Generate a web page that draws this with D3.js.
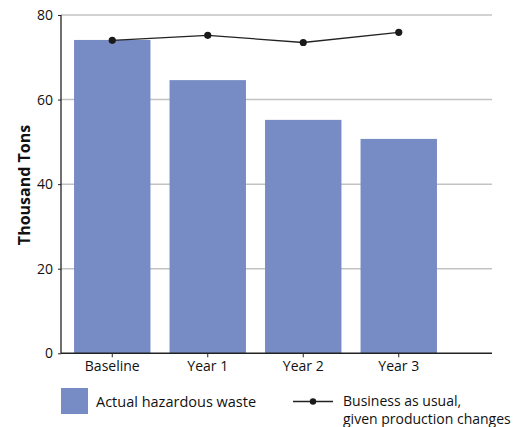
<!DOCTYPE html>
<html>
<head>
<meta charset="utf-8">
<script src="https://cdn.jsdelivr.net/npm/d3@7"></script>
<style>
  html, body { margin: 0; padding: 0; background: #fff; }
  svg { display: block; font-family: "Open Sans", "Noto Sans", sans-serif; }
</style>
</head>
<body>
<div id="chart"></div>
<script>
// Daten
const categories = ['Baseline', 'Year 1', 'Year 2', 'Year 3'];
const actualWaste = [74.1, 64.6, 55.2, 50.7];
const businessAsUsual = [74.0, 75.2, 73.5, 75.9];
const yTicks = [0, 20, 40, 60, 80];

const width = 524, height = 427;
const BAR = '#778bc4';

const svg = d3.select('#chart').append('svg')
  .attr('width', width).attr('height', height);

const y = d3.scaleLinear().domain([0, 80]).range([353.3, 15]);
const x = d3.scaleBand().domain(categories)
  .range([64.5, 446.5]).paddingInner(0.2).paddingOuter(0.1);
const axisRight = 492;

// Gitterlinien
svg.append('g').selectAll('line')
  .data(yTicks.filter(d => d > 0))
  .join('line')
    .attr('x1', 61).attr('x2', axisRight)
    .attr('y1', d => y(d)).attr('y2', d => y(d))
    .attr('stroke', '#c3c3c3').attr('stroke-width', 1.5);

// Balken
svg.append('g').selectAll('rect')
  .data(categories)
  .join('rect')
    .attr('x', d => x(d))
    .attr('width', x.bandwidth())
    .attr('y', (d, i) => y(actualWaste[i]))
    .attr('height', (d, i) => y(0) - y(actualWaste[i]))
    .attr('fill', BAR);

// y-Achse
const yAxis = svg.append('g')
  .attr('transform', 'translate(61,0)')
  .call(d3.axisLeft(y).tickValues(yTicks).tickSize(3).tickPadding(5));
yAxis.select('.domain').attr('stroke', '#222').attr('stroke-width', 1.3).attr('d', `M0,${y(80)}V${y(0)}`);
yAxis.selectAll('.tick line').attr('stroke', '#222');
yAxis.selectAll('text').attr('font-size', 14).attr('fill', '#111')
  .attr('font-family', '"Open Sans", sans-serif');

// x-Achse
const xAxis = svg.append('g')
  .attr('transform', `translate(0,${y(0)})`)
  .call(d3.axisBottom(x).tickSize(4).tickPadding(4));
xAxis.select('.domain').attr('stroke', '#222').attr('stroke-width', 1.5).attr('d', `M61,0H${axisRight}`);
xAxis.selectAll('.tick line').attr('stroke', '#222');
xAxis.selectAll('text').attr('font-size', 14).attr('fill', '#111')
  .attr('font-family', '"Open Sans", sans-serif');

// Linie "Business as usual"
const line = d3.line()
  .x((d, i) => x(categories[i]) + x.bandwidth() / 2)
  .y(d => y(d));
svg.append('path')
  .datum(businessAsUsual)
  .attr('d', line)
  .attr('fill', 'none').attr('stroke', '#222').attr('stroke-width', 1.3);
svg.append('g').selectAll('circle')
  .data(businessAsUsual)
  .join('circle')
    .attr('cx', (d, i) => x(categories[i]) + x.bandwidth() / 2)
    .attr('cy', d => y(d))
    .attr('r', 3.6)
    .attr('fill', '#1a1a1a');

// Achsentitel
svg.append('text')
  .attr('transform', 'translate(29.5,185) rotate(-90)')
  .attr('text-anchor', 'middle')
  .attr('font-size', 16).attr('font-weight', 700).attr('fill', '#111')
  .text('Thousand Tons');

// Legende
svg.append('rect').attr('x', 61).attr('y', 388).attr('width', 27).attr('height', 26).attr('fill', BAR);
svg.append('text').attr('x', 96).attr('y', 407).attr('font-size', 14.5).attr('fill', '#111')
  .text('Actual hazardous waste');

svg.append('line').attr('x1', 293).attr('x2', 333).attr('y1', 401.5).attr('y2', 401.5)
  .attr('stroke', '#222').attr('stroke-width', 1.3);
svg.append('circle').attr('cx', 313).attr('cy', 401.5).attr('r', 3.2).attr('fill', '#1a1a1a');
const lt = svg.append('text').attr('x', 343).attr('y', 406).attr('font-size', 14).attr('fill', '#111');
lt.append('tspan').attr('x', 343).text('Business as usual,');
lt.append('tspan').attr('x', 343).attr('dy', 18).text('given production changes');
</script>
</body>
</html>
